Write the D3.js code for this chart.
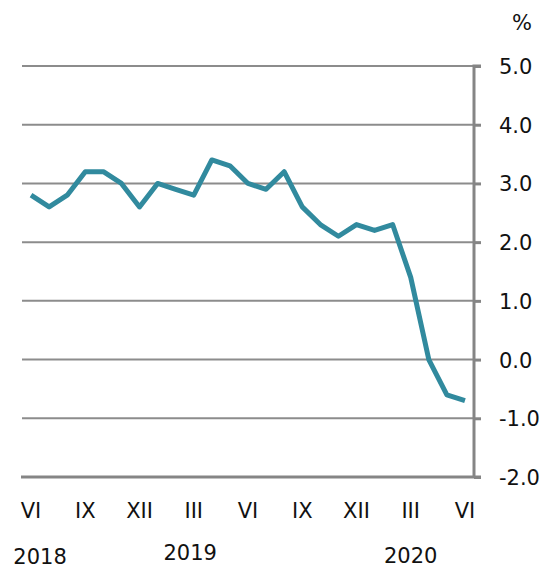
<!DOCTYPE html>
<html>
<head>
<meta charset="utf-8">
<script src="https://cdn.jsdelivr.net/npm/d3@7"></script>
<style>
  body { margin: 0; background: #fff; }
  text { font-family: "DejaVu Sans", Verdana, sans-serif; fill: #111; }
</style>
</head>
<body>
<div id="chart"></div>
<script>
// monthly values, June 2018 .. June 2020
var months = d3.range(25).map(function(i){ return "m" + i; });
var values = [2.8, 2.6, 2.8, 3.2, 3.2, 3.0, 2.6, 3.0, 2.9, 2.8, 3.4, 3.3, 3.0,
              2.9, 3.2, 2.6, 2.3, 2.1, 2.3, 2.2, 2.3, 1.4, 0.0, -0.6, -0.7];
var tickMonths = ["VI", "IX", "XII", "III", "VI", "IX", "XII", "III", "VI"];
var years = ["2018", "2019", "2020"];
var yTicks = [-2, -1, 0, 1, 2, 3, 4, 5];

var width = 552, height = 569,
    plotLeft = 22, plotRight = 474, plotTop = 66, plotBottom = 477;

var svg = d3.select("#chart").append("svg")
    .attr("width", width)
    .attr("height", height);

var x = d3.scalePoint()
    .domain(months)
    .range([plotLeft, plotRight])
    .padding(0.5);

var y = d3.scaleLinear()
    .domain([-2, 5])
    .range([plotBottom, plotTop]);

// gridlines
svg.append("g")
  .selectAll("line")
  .data(yTicks.filter(function(d){ return d > -2; }))
  .enter().append("line")
    .attr("x1", plotLeft).attr("x2", plotRight)
    .attr("y1", function(d){ return y(d); })
    .attr("y2", function(d){ return y(d); })
    .attr("stroke", "#8c8c8c")
    .attr("stroke-width", 2);

// bottom axis line
svg.append("line")
    .attr("x1", plotLeft - 1).attr("x2", plotRight + 7)
    .attr("y1", y(-2)).attr("y2", y(-2))
    .attr("stroke", "#858585")
    .attr("stroke-width", 3);

// right axis, plain hyphen for negatives
var fmt = d3.format(".1f");
var yAxis = d3.axisRight(y)
    .tickValues(yTicks)
    .tickSize(7)
    .tickPadding(18)
    .tickFormat(function(d){ return fmt(d).replace("\u2212", "-"); });

var ya = svg.append("g")
    .attr("transform", "translate(" + plotRight + ",0)")
    .call(yAxis);
ya.select(".domain")
    .attr("stroke", "#858585")
    .attr("stroke-width", 3)
    .attr("d", "M0," + y(-2) + "V" + y(5) + "H7");
ya.selectAll(".tick line")
    .attr("stroke", "#858585")
    .attr("stroke-width", 3);
ya.selectAll(".tick text")
    .style("font-size", "21px")
    .attr("fill", "#111")
    .attr("dy", "0.36em");

svg.append("text")
    .attr("x", 522).attr("y", 30)
    .attr("text-anchor", "middle")
    .style("font-size", "21px")
    .text("%");

// line
var line = d3.line()
    .x(function(d, i){ return x(months[i]); })
    .y(function(d){ return y(d); });

svg.append("path")
    .datum(values)
    .attr("fill", "none")
    .attr("stroke", "#318a9e")
    .attr("stroke-width", 5)
    .attr("stroke-linejoin", "round")
    .attr("d", line);

// month labels every third month
svg.append("g")
  .selectAll("text")
  .data(tickMonths)
  .enter().append("text")
    .attr("x", function(d, i){ return x(months[i * 3]); })
    .attr("y", 518)
    .attr("text-anchor", "middle")
    .style("font-size", "21px")
    .text(function(d){ return d; });

// year labels
var yearAt = [0.5, 8.8, 21];
var yearY = [564, 560, 563];
svg.append("g")
  .selectAll("text")
  .data(years)
  .enter().append("text")
    .attr("x", function(d, i){ return x(months[0]) + yearAt[i] * x.step(); })
    .attr("y", function(d, i){ return yearY[i]; })
    .attr("text-anchor", "middle")
    .style("font-size", "21px")
    .text(function(d){ return d; });
</script>
</body>
</html>
